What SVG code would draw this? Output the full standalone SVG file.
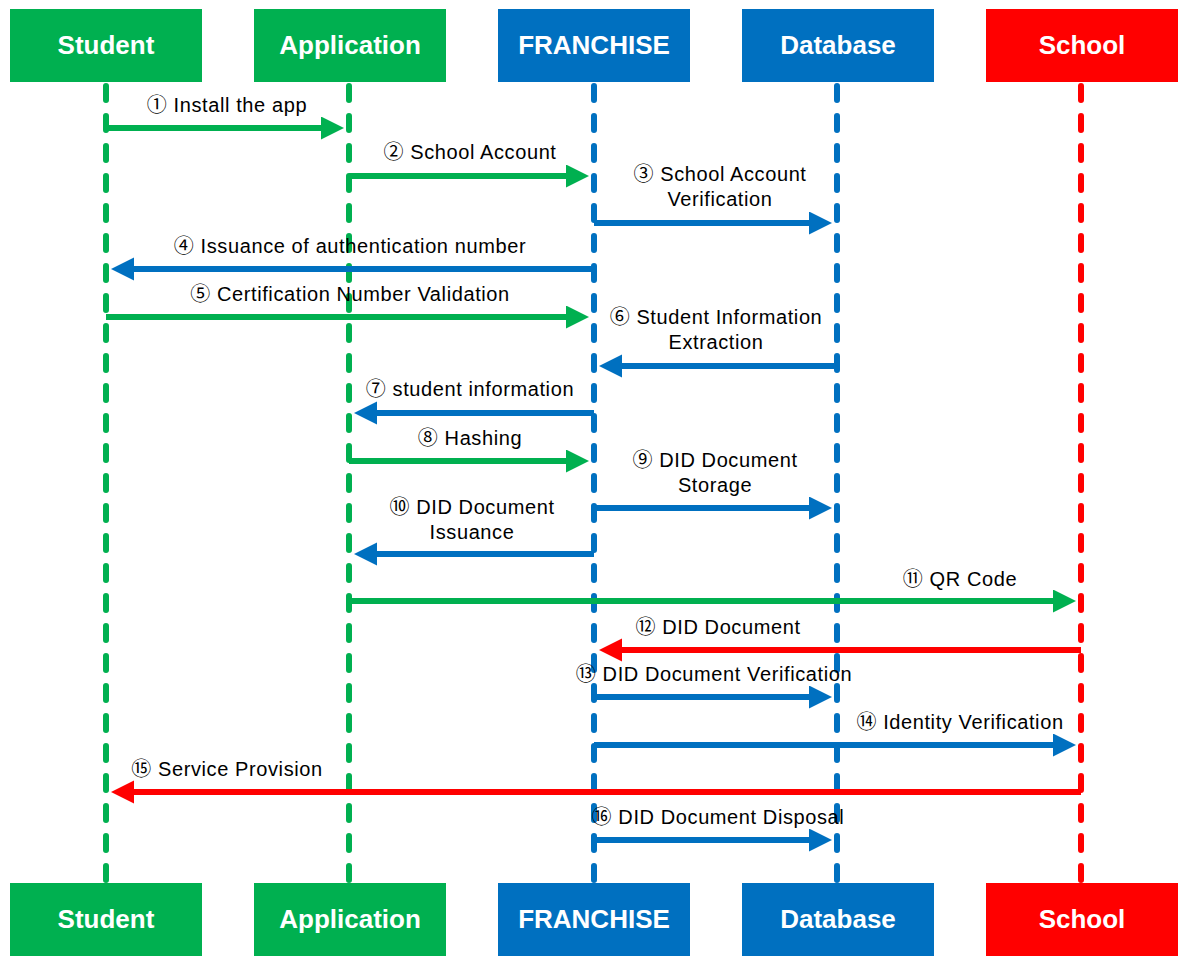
<svg xmlns="http://www.w3.org/2000/svg" width="1188" height="965" viewBox="0 0 1188 965">
<style>
.hdr{font-family:"Liberation Sans",Arial,sans-serif;font-weight:bold;font-size:26px;fill:#fff;text-anchor:middle}
.lbl{font-family:"Liberation Sans","Noto Sans CJK KR",sans-serif;font-size:20px;letter-spacing:0.6px;fill:#000;text-anchor:middle}
.life{stroke-width:6;stroke-linecap:round;stroke-dasharray:14 16;fill:none}
.g{stroke:#00B050}.b{stroke:#0070C0}.r{stroke:#FF0000}
.fg{fill:#00B050}.fb{fill:#0070C0}.fr{fill:#FF0000}
.arr{stroke-width:6;fill:none}
</style>
<defs>
<marker id="hg" markerUnits="userSpaceOnUse" markerWidth="24" markerHeight="24" refX="11" refY="11.5" orient="auto"><path d="M0,0 L23,11.5 L0,23 z" fill="#00B050"/></marker>
<marker id="hb" markerUnits="userSpaceOnUse" markerWidth="24" markerHeight="24" refX="11" refY="11.5" orient="auto"><path d="M0,0 L23,11.5 L0,23 z" fill="#0070C0"/></marker>
<marker id="hr" markerUnits="userSpaceOnUse" markerWidth="24" markerHeight="24" refX="11" refY="11.5" orient="auto"><path d="M0,0 L23,11.5 L0,23 z" fill="#FF0000"/></marker>
</defs>
<rect width="1188" height="965" fill="#fff"/>
<g id="lifelines">
<line class="life g" x1="106" y1="86" x2="106" y2="880"/>
<line class="life g" x1="349" y1="86" x2="349" y2="880"/>
<line class="life b" x1="594" y1="86" x2="594" y2="880"/>
<line class="life b" x1="837" y1="86" x2="837" y2="880"/>
<line class="life r" x1="1081" y1="86" x2="1081" y2="880"/>
</g>
<g id="student-top"><rect class="fg" x="10" y="9" width="192" height="73"/><text class="hdr" x="106" y="54">Student</text></g>
<g id="application-top"><rect class="fg" x="254" y="9" width="192" height="73"/><text class="hdr" x="350" y="54">Application</text></g>
<g id="franchise-top"><rect class="fb" x="498" y="9" width="192" height="73"/><text class="hdr" x="594" y="54">FRANCHISE</text></g>
<g id="database-top"><rect class="fb" x="742" y="9" width="192" height="73"/><text class="hdr" x="838" y="54">Database</text></g>
<g id="school-top"><rect class="fr" x="986" y="9" width="192" height="73"/><text class="hdr" x="1082" y="54">School</text></g>
<g id="student-bottom"><rect class="fg" x="10" y="883" width="192" height="73"/><text class="hdr" x="106" y="928">Student</text></g>
<g id="application-bottom"><rect class="fg" x="254" y="883" width="192" height="73"/><text class="hdr" x="350" y="928">Application</text></g>
<g id="franchise-bottom"><rect class="fb" x="498" y="883" width="192" height="73"/><text class="hdr" x="594" y="928">FRANCHISE</text></g>
<g id="database-bottom"><rect class="fb" x="742" y="883" width="192" height="73"/><text class="hdr" x="838" y="928">Database</text></g>
<g id="school-bottom"><rect class="fr" x="986" y="883" width="192" height="73"/><text class="hdr" x="1082" y="928">School</text></g>
<g id="connectors">
<line class="arr g" x1="106" y1="128" x2="332" y2="128" marker-end="url(#hg)"/>
<line class="arr g" x1="349" y1="176" x2="577" y2="176" marker-end="url(#hg)"/>
<line class="arr b" x1="594" y1="223" x2="820" y2="223" marker-end="url(#hb)"/>
<line class="arr b" x1="594" y1="269" x2="123" y2="269" marker-end="url(#hb)"/>
<line class="arr g" x1="106" y1="317" x2="577" y2="317" marker-end="url(#hg)"/>
<line class="arr b" x1="837" y1="366" x2="611" y2="366" marker-end="url(#hb)"/>
<line class="arr b" x1="594" y1="413" x2="366" y2="413" marker-end="url(#hb)"/>
<line class="arr g" x1="349" y1="461" x2="577" y2="461" marker-end="url(#hg)"/>
<line class="arr b" x1="594" y1="508" x2="820" y2="508" marker-end="url(#hb)"/>
<line class="arr b" x1="594" y1="554" x2="366" y2="554" marker-end="url(#hb)"/>
<line class="arr g" x1="349" y1="601" x2="1064" y2="601" marker-end="url(#hg)"/>
<line class="arr r" x1="1081" y1="650" x2="611" y2="650" marker-end="url(#hr)"/>
<line class="arr b" x1="594" y1="697" x2="820" y2="697" marker-end="url(#hb)"/>
<line class="arr b" x1="594" y1="745" x2="1064" y2="745" marker-end="url(#hb)"/>
<line class="arr r" x1="1081" y1="792" x2="123" y2="792" marker-end="url(#hr)"/>
<line class="arr b" x1="594" y1="840" x2="820" y2="840" marker-end="url(#hb)"/>
</g>
<g id="labels">
<text class="lbl" x="227" y="112">① Install the app</text>
<text class="lbl" x="470" y="159">② School Account</text>
<text class="lbl" x="720" y="181">③ School Account</text>
<text class="lbl" x="720" y="206">Verification</text>
<text class="lbl" x="350" y="253">④ Issuance of authentication number</text>
<text class="lbl" x="350" y="301">⑤ Certification Number Validation</text>
<text class="lbl" x="716" y="324">⑥ Student Information</text>
<text class="lbl" x="716" y="349">Extraction</text>
<text class="lbl" x="470" y="396">⑦ student information</text>
<text class="lbl" x="470" y="445">⑧ Hashing</text>
<text class="lbl" x="715" y="467">⑨ DID Document</text>
<text class="lbl" x="715" y="492">Storage</text>
<text class="lbl" x="472" y="514">⑩ DID Document</text>
<text class="lbl" x="472" y="539">Issuance</text>
<text class="lbl" x="960" y="586">⑪ QR Code</text>
<text class="lbl" x="718" y="634">⑫ DID Document</text>
<text class="lbl" x="714" y="681">⑬ DID Document Verification</text>
<text class="lbl" x="960" y="729">⑭ Identity Verification</text>
<text class="lbl" x="227" y="776">⑮ Service Provision</text>
<text class="lbl" x="718" y="824">⑯ DID Document Disposal</text>
</g>
</svg>
